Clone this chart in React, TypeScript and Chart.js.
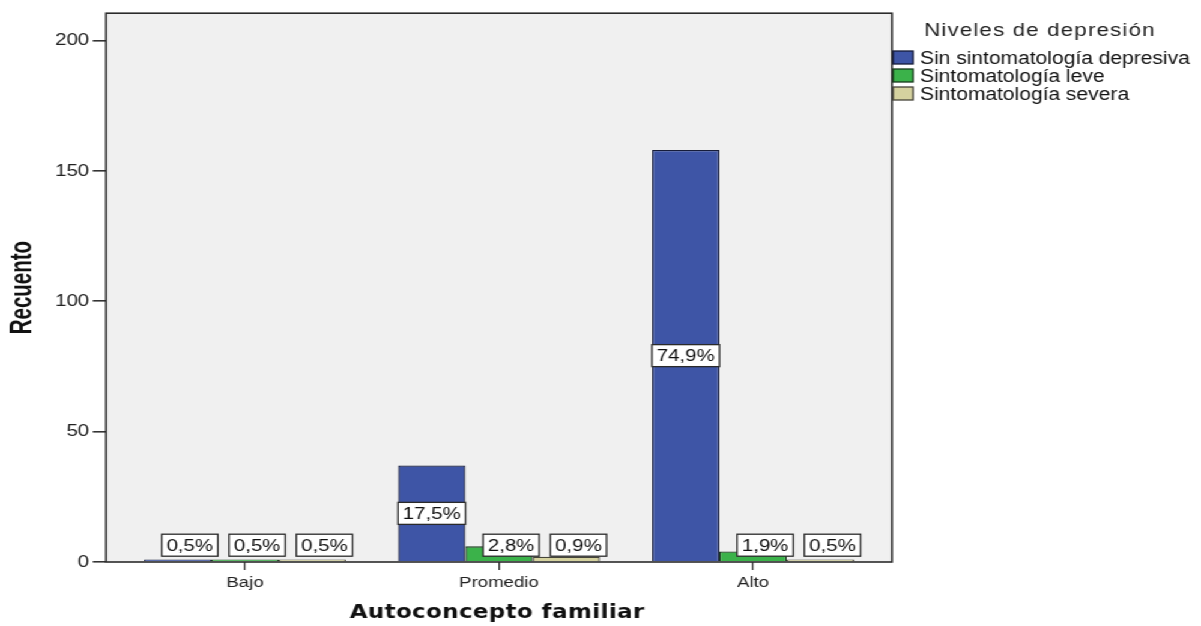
import { useEffect, useRef } from "react";
import { Chart, registerables } from "chart.js";

Chart.register(...registerables);

// Counts per "Autoconcepto familiar" level, one array per depression level
const categories = ["Bajo", "Promedio", "Alto"];
const seriesNames = [
  "Sin sintomatología depresiva",
  "Sintomatología leve",
  "Sintomatología severa",
];
const sinSintomatologia = [1, 37, 158];
const sintomatologiaLeve = [1, 6, 4];
const sintomatologiaSevera = [1, 2, 1];
const yTicks = [0, 50, 100, 150, 200];
const yMax = 210.5;

const fills = ["#3e55a6", "#3bb24a", "#d5d29f"];
const edges = ["#161c3a", "#183a1c", "#45443a"];

const legendTitle = "Niveles de depresión";
const xTitle = "Autoconcepto familiar";
const yTitle = "Recuento";

// The drawing is laid out on a 1000px-wide canvas that is stretched horizontally
const W = 1000;
const H = 626;
const SX = 1.201;

const series = [sinSintomatologia, sintomatologiaLeve, sintomatologiaSevera];
const total = series.reduce((s, arr) => s + arr.reduce((a, b) => a + b, 0), 0);

const pct = (v: number) => (v / total * 100).toFixed(1).replace(".", ",") + "%";

const decorations = {
  id: "decorations",
  beforeDraw(chart: any) {
    const { ctx, chartArea: a } = chart;
    ctx.save();
    ctx.fillStyle = "#ffffff";
    ctx.fillRect(0, 0, chart.width, chart.height);
    ctx.fillStyle = "#f0f0f0";
    ctx.fillRect(a.left, a.top, a.right - a.left, a.bottom - a.top);
    ctx.restore();
  },
  afterDatasetsDraw(chart: any) {
    const { ctx, chartArea: a } = chart;
    ctx.save();
    // plot frame
    ctx.strokeStyle = "#2b2b2b";
    ctx.lineWidth = 1.6;
    ctx.strokeRect(a.left, a.top, a.right - a.left, a.bottom - a.top);

    // percentage boxes
    ctx.font = "17px 'Liberation Sans', Arial, sans-serif";
    chart.data.datasets.forEach((ds: any, di: number) => {
      const meta = chart.getDatasetMeta(di);
      meta.data.forEach((bar: any, i: number) => {
        const v = ds.data[i].y;
        const txt = pct(v);
        const { x, y, base, width } = bar.getProps(["x", "y", "base", "width"], true);
        const tw = ctx.measureText(txt).width;
        const bw = tw + 8;
        const bh = 22;
        let cx = x;
        let cy = (y + base) / 2;
        if (base - y < bh + 8) {
          cy = base - 16;
          cx = x + width * 0.18;
        }
        ctx.fillStyle = "#ffffff";
        ctx.fillRect(cx - bw / 2, cy - bh / 2, bw, bh);
        ctx.strokeStyle = "#2a2a2a";
        ctx.lineWidth = 1.3;
        ctx.strokeRect(cx - bw / 2, cy - bh / 2, bw, bh);
        ctx.fillStyle = "#111111";
        ctx.textAlign = "center";
        ctx.textBaseline = "middle";
        ctx.fillText(txt, cx, cy + 1);
      });
    });
    ctx.restore();
  },
  afterDraw(chart: any) {
    const { ctx, chartArea: a } = chart;
    ctx.save();
    // legend
    const sx = a.right + 1;
    const tx = 766;
    ctx.fillStyle = "#222222";
    ctx.textAlign = "left";
    ctx.textBaseline = "alphabetic";
    ctx.font = "18.5px 'Liberation Sans', Arial, sans-serif";
    (ctx as any).letterSpacing = "1px";
    ctx.fillText(legendTitle, 769.5, 35.5);
    (ctx as any).letterSpacing = "0px";
    ctx.font = "17.5px 'Liberation Sans', Arial, sans-serif";
    chart.data.datasets.forEach((ds: any, i: number) => {
      const baseline = 64 + i * 18;
      ctx.fillStyle = ds.backgroundColor;
      ctx.fillRect(sx, baseline - 13, 16.5, 13);
      ctx.strokeStyle = ds.borderColor;
      ctx.lineWidth = 1.3;
      ctx.strokeRect(sx, baseline - 13, 16.5, 13);
      ctx.fillStyle = "#111111";
      ctx.fillText(ds.label, tx, baseline);
    });

    // x axis title
    ctx.font = "bold 19px 'DejaVu Sans', Verdana, sans-serif";
    (ctx as any).letterSpacing = "0.4px";
    ctx.textAlign = "center";
    ctx.fillStyle = "#111111";
    ctx.fillText(xTitle, (a.left + a.right) / 2 - 1.5, 618);
    (ctx as any).letterSpacing = "0px";

    // y axis title (condensed, rotated)
    ctx.translate(18.7, (a.top + a.bottom) / 2);
    ctx.rotate(-Math.PI / 2);
    ctx.scale(0.82, 1);
    ctx.font = "bold 25px 'Liberation Sans', Arial, sans-serif";
    ctx.textAlign = "center";
    ctx.textBaseline = "middle";
    ctx.fillText(yTitle, 0, 0);
    ctx.restore();
  },
};

export default function App() {
  const ref = useRef<HTMLCanvasElement>(null);

  useEffect(() => {
    document.body.style.margin = "0";
    document.body.style.overflow = "hidden";
    const chart = new Chart(ref.current!, {
      type: "bar",
      data: {
        datasets: series.map((arr, i) => ({
          label: seriesNames[i],
          data: arr.map((v, j) => ({ x: j, y: v })),
          backgroundColor: fills[i],
          borderColor: edges[i],
          borderWidth: 1.3,
        })),
      },
      options: {
        animation: false,
        responsive: false,
        devicePixelRatio: 1,
        layout: { padding: { left: 38.3, right: 257.3, top: 12, bottom: 24 } },
        plugins: { legend: { display: false }, tooltip: { enabled: false } },
        datasets: { bar: { categoryPercentage: 0.795, barPercentage: 1 } },
        scales: {
          x: {
            type: "linear",
            offset: false,
            min: -0.547,
            max: 2.547,
            afterBuildTicks: (s: any) => {
              s.ticks = categories.map((_, i) => ({ value: i }));
            },
            afterFit: (s: any) => {
              s.height = 40;
            },
            grid: { offset: false, drawOnChartArea: false, drawTicks: true, tickLength: 8, color: "#333333", lineWidth: 1.3 },
            border: { display: false },
            ticks: {
              callback: (v: any) => categories[Math.round(Number(v))] ?? "",
              font: { family: "'Liberation Sans', Arial, sans-serif", size: 15.5 },
              color: "#222222",
              padding: 3,
              maxRotation: 0,
              autoSkip: false,
            },
          },
          y: {
            min: 0,
            max: yMax,
            afterBuildTicks: (s: any) => {
              s.ticks = yTicks.map((v) => ({ value: v }));
            },
            afterFit: (s: any) => {
              s.width = 50;
            },
            grid: { drawOnChartArea: false, drawTicks: true, tickLength: 11, color: "#333333", lineWidth: 1.6 },
            border: { display: false },
            ticks: {
              font: { family: "'Liberation Sans', Arial, sans-serif", size: 17 },
              color: "#222222",
              padding: 3,
            },
          },
        },
      },
      plugins: [decorations],
    } as any);
    return () => chart.destroy();
  }, []);

  return (
    <div
      style={{
        position: "absolute",
        left: 0,
        top: 0,
        width: W,
        height: H,
        transform: `scaleX(${SX})`,
        transformOrigin: "0 0",
        background: "#ffffff",
      }}
    >
      <canvas ref={ref} width={W} height={H} style={{ width: W, height: H, display: "block" }} />
    </div>
  );
}
